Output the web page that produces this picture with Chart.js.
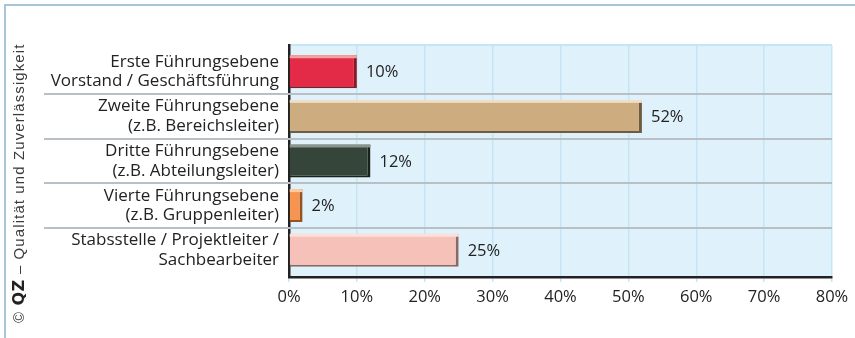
<!DOCTYPE html>
<html>
<head>
<meta charset="utf-8">
<script src="https://cdn.jsdelivr.net/npm/chart.js@4.4.1/dist/chart.umd.min.js"></script>
<style>
  body { margin: 0; background: #fff; }
  #wrap { position: relative; width: 855px; height: 338px; overflow: hidden; }
  #frame { position: absolute; left: 4px; top: 4px; right: -4px; bottom: -4px;
           border-left: 2px solid #a8c6d8; border-top: 2px solid #a8c6d8; pointer-events: none; }
  #credit { position: absolute; left: 12px; top: 323px; transform-origin: 0 0; transform: rotate(-90deg);
            white-space: nowrap; font: 15px "Liberation Sans", Arial, sans-serif; line-height: 14px;
            letter-spacing: 1.1px; color: #3c3c3c; }
  #credit b { font-family: "DejaVu Sans", sans-serif; font-weight: bold; font-size: 16px; letter-spacing: 0.5px; color: #222; }
</style>
</head>
<body>
<div id="wrap">
  <canvas id="chart" width="855" height="338"></canvas>
  <div id="frame"></div>
  <div id="credit">© <b>QZ</b> – Qualität und Zuverlässigkeit</div>
</div>
<script>
  // Chart data
  const categories = [
    ["Erste Führungsebene", "Vorstand / Geschäftsführung"],
    ["Zweite Führungsebene", "(z.B. Bereichsleiter)"],
    ["Dritte Führungsebene", "(z.B. Abteilungsleiter)"],
    ["Vierte Führungsebene", "(z.B. Gruppenleiter)"],
    ["Stabsstelle / Projektleiter /", "Sachbearbeiter"]
  ];
  const shares = [10, 52, 12, 2, 25];
  const xTicks = [0, 10, 20, 30, 40, 50, 60, 70, 80];

  const fills  = ["#e32b48", "#cdad7f", "#35453a", "#f7944f", "#f6c1b9"];
  const lights = ["#f0a29c", "#eedfc8", "#8b938d", "#fccda4", "#fbe1dc"];
  const darks  = ["#8a1826", "#6f5b41", "#18211a", "#96521f", "#8a6966"];

  const FONT = "'Open Sans', sans-serif";

  // light blue plot background
  const plotBg = {
    id: "plotBg",
    beforeDraw(chart) {
      const { ctx, chartArea: a } = chart;
      ctx.save();
      ctx.fillStyle = "#dff1fa";
      ctx.fillRect(a.left, a.top, a.right - a.left, a.bottom - a.top);
      ctx.strokeStyle = "#c4e6f6";
      ctx.lineWidth = 2;
      ctx.beginPath();
      ctx.moveTo(a.left, a.top);
      ctx.lineTo(a.right, a.top);
      ctx.stroke();
      ctx.restore();
    }
  };

  // grey separators between the rows, running into the label area
  const separators = {
    id: "separators",
    beforeDatasetsDraw(chart) {
      const { ctx, chartArea: a, scales } = chart;
      ctx.save();
      ctx.strokeStyle = "#b9c0c5";
      ctx.lineWidth = 2;
      for (let i = 0; i < categories.length - 1; i++) {
        const y = Math.round(scales.y.getPixelForValue(i + 0.5));
        ctx.beginPath();
        ctx.moveTo(44, y);
        ctx.lineTo(a.right, y);
        ctx.stroke();
      }
      ctx.restore();
    }
  };

  // bevel highlight on top of each bar plus value labels
  const barExtras = {
    id: "barExtras",
    afterDatasetsDraw(chart) {
      const { ctx } = chart;
      const meta = chart.getDatasetMeta(0);
      ctx.save();
      meta.data.forEach((el, i) => {
        const top = el.y - el.height / 2;
        ctx.fillStyle = lights[i];
        ctx.fillRect(el.base, top, el.x - el.base, 3);
        ctx.fillStyle = "#222";
        ctx.font = "16.5px " + FONT;
        ctx.textAlign = "left";
        ctx.textBaseline = "middle";
        ctx.fillText(shares[i] + "%", el.x + 9, el.y + 1);
      });
      ctx.restore();
    }
  };

  new Chart(document.getElementById("chart"), {
    type: "bar",
    data: {
      datasets: [{
        data: shares.map((v, i) => ({ x: v, y: i })),
        backgroundColor: fills,
        borderColor: darks,
        borderWidth: { top: 0, left: 0, right: 3, bottom: 2 },
        borderSkipped: false,
        barPercentage: 0.74,
        categoryPercentage: 1
      }]
    },
    options: {
      indexAxis: "y",
      responsive: false,
      animation: false,
      layout: { padding: { top: 45, right: 23, left: 0, bottom: 0 } },
      plugins: { legend: { display: false }, tooltip: { enabled: false } },
      scales: {
        x: {
          type: "linear",
          min: 0,
          max: 80,
          afterBuildTicks: s => { s.ticks = xTicks.map(v => ({ value: v })); },
          afterFit: s => { s.height = 61; },
          grid: { color: "#c4e6f6", lineWidth: 1.5, tickLength: 5 },
          border: { color: "#222", width: 2.5 },
          ticks: {
            color: "#222",
            padding: 5,
            font: { family: FONT, size: 16.5 },
            callback: v => v + "%"
          }
        },
        y: {
          type: "linear",
          min: -0.6,
          max: 4.6,
          reverse: true,
          offset: false,
          z: 1,
          afterBuildTicks: s => { s.ticks = categories.map((c, i) => ({ value: i })); },
          afterFit: s => { s.width = 289; },
          grid: { display: false },
          border: { color: "#222", width: 2.5 },
          ticks: {
            color: "#222",
            padding: 2,
            font: { family: FONT, size: 17, lineHeight: 1.15 },
            callback: v => categories[v]
          }
        }
      }
    },
    plugins: [plotBg, separators, barExtras]
  });
</script>
</body>
</html>
